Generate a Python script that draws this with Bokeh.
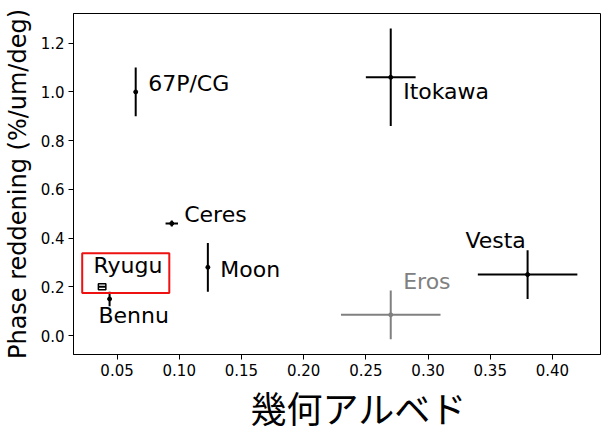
from bokeh.core.properties import value
from bokeh.embed import file_html
from bokeh.models import ColumnDataSource, FixedTicker, NumeralTickFormatter, Range1d, Title
from bokeh.plotting import figure
from bokeh.resources import INLINE

# Bodies: geometric albedo vs phase reddening
names = ["67P/CG", "Itokawa", "Ceres", "Moon", "Vesta", "Eros", "Ryugu", "Bennu"]
albedo = [0.065, 0.27, 0.094, 0.123, 0.38, 0.27, 0.038, 0.044]
albedo_err = [0.0, 0.02, 0.005, 0.0, 0.04, 0.04, 0.003, 0.0]
redden = [1.00, 1.06, 0.46, 0.28, 0.25, 0.085, 0.20, 0.15]
redden_err = [0.10, 0.20, 0.012, 0.10, 0.10, 0.10, 0.012, 0.03]
colors = ["black", "black", "black", "black", "black", "gray", "black", "black"]
marker_kind = ["dot", "dot", "dot", "dot", "dot", "dot", "box", "dot"]

# where each name is written (data coords)
label_x = [0.075, 0.28, 0.104, 0.133, 0.33, 0.28, 0.031, 0.035]
label_y = [0.998, 0.965, 0.461, 0.233, 0.352, 0.185, 0.25, 0.045]

# red highlight around Ryugu: left, right, bottom, top
highlight = [0.022, 0.092, 0.174, 0.338]

x_ticks = [0.05, 0.10, 0.15, 0.20, 0.25, 0.30, 0.35, 0.40]
y_ticks = [0.0, 0.2, 0.4, 0.6, 0.8, 1.0, 1.2]

FONT = "DejaVu Sans"

p = figure(
    width=608,
    height=434,
    x_range=Range1d(0.015, 0.4386),
    y_range=Range1d(-0.078, 1.322),
    output_backend="svg",
    toolbar_location=None,
    min_border_left=73,
    min_border_right=8,
    min_border_top=13,
    min_border_bottom=80,
)

# error bars
hx = [i for i in range(len(names)) if albedo_err[i] > 0]
hsrc = ColumnDataSource(dict(
    x0=[albedo[i] - albedo_err[i] for i in hx],
    x1=[albedo[i] + albedo_err[i] for i in hx],
    y=[redden[i] for i in hx],
    color=[colors[i] for i in hx],
))
p.segment(x0="x0", y0="y", x1="x1", y1="y", line_color="color", line_width=2, source=hsrc)

vy = [i for i in range(len(names)) if redden_err[i] > 0 and marker_kind[i] == "dot"]
vsrc = ColumnDataSource(dict(
    x=[albedo[i] for i in vy],
    y0=[redden[i] - redden_err[i] for i in vy],
    y1=[redden[i] + redden_err[i] for i in vy],
    color=[colors[i] for i in vy],
))
p.segment(x0="x", y0="y0", x1="x", y1="y1", line_color="color", line_width=2, source=vsrc)

# markers
dots = [i for i in range(len(names)) if marker_kind[i] == "dot"]
p.scatter(
    x=[albedo[i] for i in dots], y=[redden[i] for i in dots],
    color=[colors[i] for i in dots], size=4, marker="circle",
)
boxes = [i for i in range(len(names)) if marker_kind[i] == "box"]
p.quad(
    left=[albedo[i] - albedo_err[i] for i in boxes],
    right=[albedo[i] + albedo_err[i] for i in boxes],
    bottom=[redden[i] - redden_err[i] for i in boxes],
    top=[redden[i] + redden_err[i] for i in boxes],
    fill_color=None, line_color="black", line_width=1.5,
)

# names
tsrc = ColumnDataSource(dict(x=label_x, y=label_y, text=names, color=colors))
p.text(
    x="x", y="y", text="text", text_color="color", source=tsrc,
    text_font=value(FONT), text_font_size="22px",
    text_align="left", text_baseline="alphabetic", y_offset=-9,
)

# highlight box
p.quad(
    left=[highlight[0]], right=[highlight[1]], bottom=[highlight[2]], top=[highlight[3]],
    fill_color=None, line_color="#ee1111", line_width=2,
)

# axes styling
p.grid.grid_line_color = None
p.outline_line_color = "black"
p.outline_line_width = 1
p.background_fill_color = "white"
p.border_fill_color = "white"

p.xaxis.ticker = FixedTicker(ticks=x_ticks)
p.yaxis.ticker = FixedTicker(ticks=y_ticks)
p.xaxis.formatter = NumeralTickFormatter(format="0.00")
p.yaxis.formatter = NumeralTickFormatter(format="0.0")
for ax in (p.xaxis, p.yaxis):
    ax.axis_line_color = "black"
    ax.major_tick_line_color = "black"
    ax.major_tick_out = 5
    ax.major_tick_in = 0
    ax.minor_tick_line_color = None
    ax.major_label_text_font = FONT
    ax.major_label_text_font_size = "15px"
    ax.major_label_text_color = "black"
    ax.major_label_standoff = 4

p.yaxis.axis_label = "Phase reddening (%/um/deg)"
p.yaxis.axis_label_text_font = FONT
p.yaxis.axis_label_text_font_style = "normal"
p.yaxis.axis_label_text_font_size = "24px"
p.yaxis.axis_label_text_color = "black"
p.yaxis.axis_label_standoff = 6

# x axis title, shifted right of centre as in the original
p.add_layout(Title(
    text="幾何アルベド", align="left", offset=177, standoff=0,
    text_font="Noto Sans CJK JP", text_font_size="36px",
    text_font_style="normal", text_color="black",
), "below")

open("out.html", "w").write(file_html(p, INLINE))
